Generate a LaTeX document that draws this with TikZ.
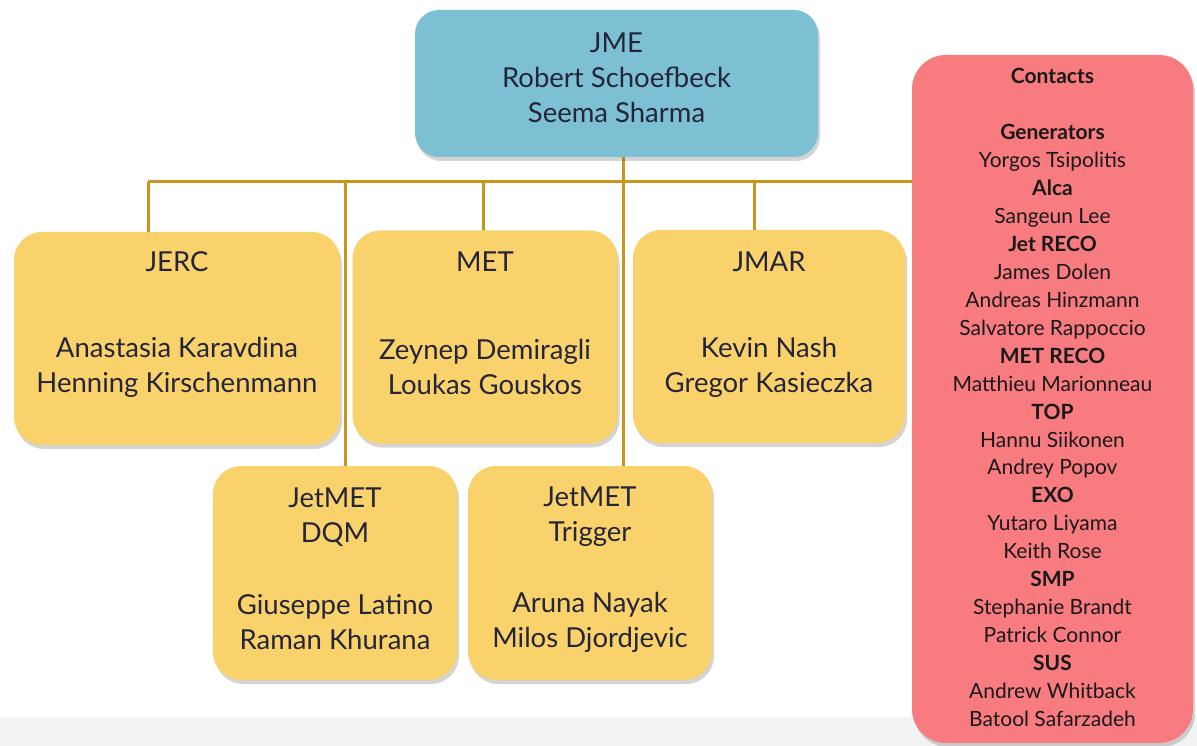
\documentclass[tikz,border=0pt]{standalone}
\usepackage{fontspec}
\setmainfont{Lato}
\usetikzlibrary{shadows}
\definecolor{jmeblue}{HTML}{7DC0D3}
\definecolor{groupyellow}{HTML}{F9D26C}
\definecolor{contactred}{HTML}{F87B7F}
\definecolor{linkgold}{HTML}{C8961C}
\definecolor{inktext}{HTML}{25253A}
\definecolor{stripgray}{HTML}{F3F3F3}
\begin{document}
\begin{tikzpicture}[x=1pt,y=-1pt,
  boxbase/.style={draw=none, rounded corners=28pt, inner sep=0pt,
    drop shadow={shadow xshift=2pt, shadow yshift=-4pt, opacity=0.28, fill=black!60}},
  leadbox/.style={boxbase, fill=jmeblue, rounded corners=24pt},
  groupbox/.style={boxbase, fill=groupyellow},
  contactbox/.style={boxbase, fill=contactred, rounded corners=34pt},
  maintext/.style={text=inktext, align=center, inner sep=0pt,
    font=\fontsize{27.5}{35}\selectfont},
  contacttext/.style={text=black!90, align=center, inner sep=0pt,
    font=\fontsize{21}{27.95}\selectfont},
  link/.style={draw=linkgold, line width=3pt}]
\useasboundingbox (0,0) rectangle (1197,746);
\fill[stripgray] (0,717) rectangle (1197,746);

% junction points of the connector bus
\coordinate (busL) at (148,182);
\coordinate (busDQM) at (345,182);
\coordinate (busMET) at (483,182);
\coordinate (busTop) at (623,182);
\coordinate (busJMAR) at (754,182);
\coordinate (busR) at (914,182);

% connectors (drawn first so boxes sit on top)
\draw[link] (busL) -- (busR);
\draw[link] (busTop) ++(0,-30) -- (623,466);
\draw[link] (busL) -- ++(0,52);
\draw[link] (busDQM) -- (345,466);
\draw[link] (busMET) -- ++(0,50);
\draw[link] (busJMAR) -- ++(0,50);

% boxes
\node[leadbox, minimum width=403pt, minimum height=147pt] (jme) at (616.5,83.5) {};
\node[groupbox, minimum width=326pt, minimum height=213pt] (jerc) at (177,338.5) {};
\node[groupbox, minimum width=265pt, minimum height=213pt] (met) at (485,337) {};
\node[groupbox, minimum width=272pt, minimum height=213pt] (jmar) at (769,336.5) {};
\node[groupbox, minimum width=244pt, minimum height=214pt] (dqm) at (335,573) {};
\node[groupbox, minimum width=244pt, minimum height=214pt] (trig) at (590,573) {};
\node[contactbox, minimum width=281pt, minimum height=688pt] (contacts) at (1052.5,399) {};

% texts
\node[maintext] (jmet) at (616.5,78) {JME\\Robert Schoefbeck\\Seema Sharma};

\node[maintext] (jerct) at (177,262) {JERC};
\node[maintext] (jercn) at (177,367) {Anastasia Karavdina\\Henning Kirschenmann};

\node[maintext] (mett) at (485,262) {MET};
\node[maintext] (metn) at (485,367) {Zeynep Demiragli\\Loukas Gouskos};

\node[maintext] (jmart) at (769,262) {JMAR};
\node[maintext] (jmarn) at (769,367) {Kevin Nash\\Gregor Kasieczka};

\node[maintext] (dqmt) at (335,517) {JetMET\\DQM};
\node[maintext] (dqmn) at (335,622) {Giuseppe Latino\\Raman Khurana};

\node[maintext] (trigt) at (590,517) {JetMET\\Trigger};
\node[maintext] (trign) at (590,622) {Aruna Nayak\\Milos Djordjevic};

\node[contacttext] (contactst) at (1052.5,397.5) {%
  \textbf{Contacts}\\[27.95pt]
  \textbf{Generators}\\
  Yorgos Tsipolitis\\
  \textbf{Alca}\\
  Sangeun Lee\\
  \textbf{Jet RECO}\\
  James Dolen\\
  Andreas Hinzmann\\
  Salvatore Rappoccio\\
  \textbf{MET RECO}\\
  Matthieu Marionneau\\
  \textbf{TOP}\\
  Hannu Siikonen\\
  Andrey Popov\\
  \textbf{EXO}\\
  Yutaro Liyama\\
  Keith Rose\\
  \textbf{SMP}\\
  Stephanie Brandt\\
  Patrick Connor\\
  \textbf{SUS}\\
  Andrew Whitback\\
  Batool Safarzadeh};
\end{tikzpicture}
\end{document}
